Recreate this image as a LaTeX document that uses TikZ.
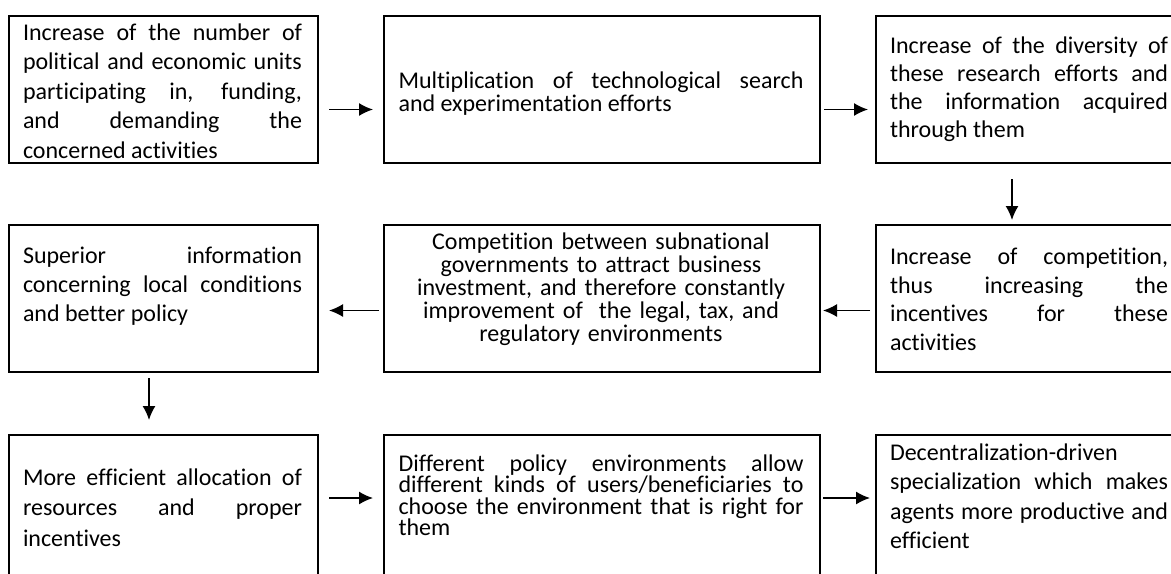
\documentclass[tikz,border=0pt]{standalone}
\usepackage{fontspec}
\setmainfont{Carlito}[Ligatures = NoCommon]
\usetikzlibrary{arrows.meta}
\hyphenpenalty=10000
\exhyphenpenalty=10000
\tolerance=10000
\hbadness=10000
\tikzset{>={Latex[length=7pt, width=6.5pt]}}
\tikzset{
  box/.style = {draw, line width = 1pt, anchor = north west, minimum height = 73.5pt, inner sep = 0pt},
  narrow/.style = {box, minimum width = 154.5pt},
  wide/.style = {box, minimum width = 218pt},
  txt/.style = {align = justify, inner sep = 0pt, font = \fontsize{12}{#1}\selectfont},
  txt/.default = 14.5,
  link/.style = {->, line width = 0.75pt},
}

\begin{document}
\begin{tikzpicture}[x = 0.5pt, y = -0.5pt]
\useasboundingbox (0,0) rectangle (1171,573);
\clip (0,0) rectangle (1171,573);

\node[narrow] (b1) at (8,15) {};
\node[wide] (b2) at (383,15) {};
\node[narrow] (b3) at (875,15) {};
\node[narrow] (b4) at (8,224) {};
\node[wide] (b5) at (383,224) {};
\node[narrow] (b6) at (875,224) {};
\node[narrow] (b7) at (8,434) {};
\node[wide] (b8) at (383,434) {};
\node[narrow] (b9) at (875,434) {};

\node[txt = 14.75, text width = 139.5pt] (t1) at (162.5,91) {Increase of the number of\linebreak political and economic units\linebreak participating in, funding,\linebreak and demanding the\linebreak concerned activities};
\node[txt = 11.5, text width = 202.5pt] (t2) at (601,93.5) {Multiplication of technological search\linebreak and experimentation efforts};
\node[txt = 14, text width = 139pt] (t3) at (1029,89) {Increase of the diversity of\linebreak these research efforts and\linebreak the information acquired\linebreak through them};

\node[txt, text width = 139.5pt] (t4) at (162.5,286) {Superior information\linebreak concerning local conditions\linebreak and better policy};
\node[txt = 11.5, align = center, text width = 202.5pt] (t5) at (601,289) {Competition between subnational\\ governments to attract business\\ investment, and therefore constantly\\ improvement of\ \ the legal, tax, and\\ regulatory environments};
\node[txt = 14.25, text width = 139pt] (t6) at (1029,299.5) {Increase of competition,\linebreak thus increasing the\linebreak incentives for these\linebreak activities};

\node[txt = 15.25, text width = 139.5pt] (t7) at (162.5,507.5) {More efficient allocation of\linebreak resources and proper\linebreak incentives};
\node[txt = 10.75, text width = 202.5pt] (t8) at (601,495) {Different policy environments allow\linebreak different kinds of users/beneficiaries to\linebreak choose the environment that is right for\linebreak them};
\node[txt = 14.75, text width = 139pt] (t9) at (1029,496) {Decentralization-driven\\ specialization which makes\linebreak agents more productive and\linebreak efficient};

\draw[link, shorten <= 5pt, shorten >= 5pt] ([yshift = -10pt]b1.east) -- ([yshift = -10pt]b2.west);
\draw[link, shorten <= 1.5pt, shorten >= 3.5pt] ([yshift = -10pt]b2.east) -- ([yshift = -10pt]b3.west);
\draw[link, shorten <= 7.5pt, shorten >= 2pt] ([xshift = -9.25pt]b3.south) -- ([xshift = -9.25pt]b6.north);
\draw[link, shorten <= 2.5pt, shorten >= 1pt] ([yshift = -6pt]b6.west) -- ([yshift = -6pt]b5.east);
\draw[link, shorten <= 2pt, shorten >= 5pt] ([yshift = -6pt]b5.west) -- ([yshift = -6pt]b4.east);
\draw[link, shorten <= 2.5pt, shorten >= 7pt] ([xshift = -7.25pt]b4.south) -- ([xshift = -7.25pt]b7.north);
\draw[link, shorten <= 5pt, shorten >= 5pt] ([yshift = 5.25pt]b7.east) -- ([yshift = 5.25pt]b8.west);
\draw[link, shorten <= 1pt, shorten >= 2.5pt] ([yshift = 5.25pt]b8.east) -- ([yshift = 5.25pt]b9.west);
\end{tikzpicture}
\end{document}
